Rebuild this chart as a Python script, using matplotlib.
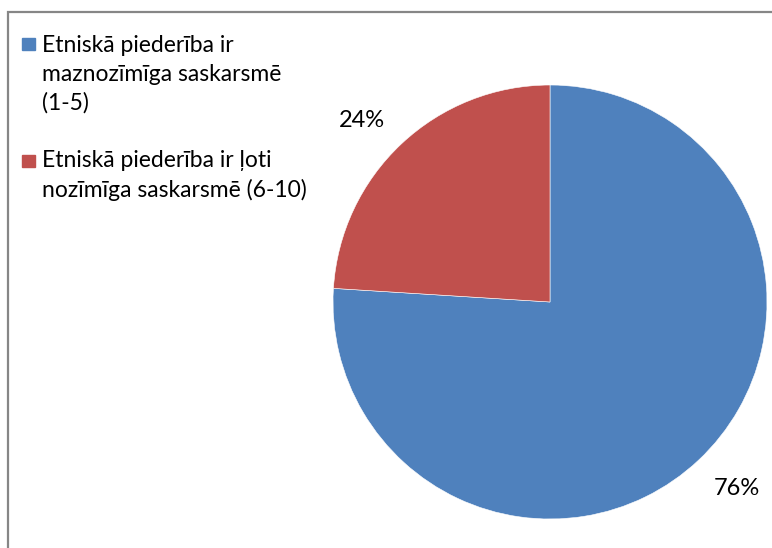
import matplotlib
matplotlib.use("Agg")
import matplotlib.pyplot as plt
from matplotlib.patches import Rectangle

labels = [
    "Etniskā piederība ir\nmaznozīmīga saskarsmē\n(1-5)",
    "Etniskā piederība ir ļoti\nnozīmīga saskarsmē (6-10)",
]
shares = [76, 24]
pct_text = ["76%", "24%"]
colors = ["#4F81BD", "#C0504D"]

plt.rcParams["font.family"] = ["Lato", "DejaVu Sans"]

W, H = 772, 548
fig = plt.figure(figsize=(W / 100, H / 100), dpi=100)
ax = fig.add_axes([0, 0, 1, 1])

wedges, _ = ax.pie(shares, colors=colors, startangle=90, counterclock=False,
                   center=(550, H - 302), radius=217,
                   wedgeprops=dict(edgecolor="white", linewidth=0.4))
ax.set_xlim(0, W)
ax.set_ylim(0, H)
ax.set_aspect("equal")
ax.axis("off")

# chart frame: only the top and left edges fall inside the picture
ax.add_patch(Rectangle((8, -20), W + 20, H - 12 + 20, fill=False,
                       edgecolor="#868686", lw=1.6, clip_on=False, zorder=5))

# percentage labels
ax.text(737, H - 495, pct_text[0], ha="center", va="baseline", fontsize=17)
ax.text(362, H - 127, pct_text[1], ha="center", va="baseline", fontsize=17)

# legend drawn by hand so the swatch sits on the first line
first_baselines = [50, 167]
last_baselines = [110, 197]
for lab, col, yb, yl in zip(labels, colors, first_baselines, last_baselines):
    ax.add_patch(Rectangle((22, H - yb), 13, 12, color=col))
    ax.text(42, H - yl, lab, ha="left", va="baseline", fontsize=16.5,
            linespacing=1.45)

fig.savefig("out.png", dpi=100)
